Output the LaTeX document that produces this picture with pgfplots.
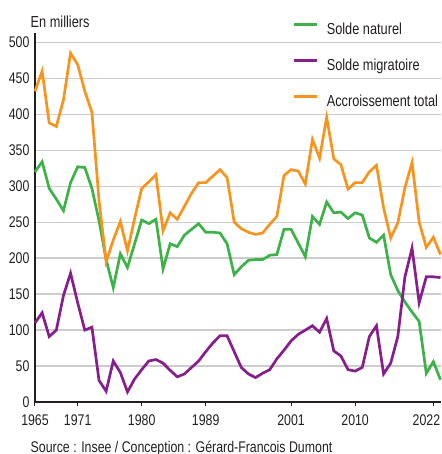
\documentclass[border=0pt]{standalone}
\usepackage{pgfplots}
\pgfplotsset{compat=1.18}
\usepackage{pgfplotstable}
\usepackage{fontspec}
\setmainfont{Liberation Sans}[FakeStretch=0.8]
\definecolor{cgreen}{RGB}{60,178,72}
\definecolor{cpurple}{RGB}{134,30,140}
\definecolor{corange}{RGB}{247,148,29}
\definecolor{ctext}{RGB}{35,31,32}
\definecolor{cgrid}{RGB}{205,205,205}
\pgfplotstableread{
year nat mig tot
1965 320 110 432
1966 334 124 460
1967 297 91 388
1968 282 100 383
1969 266 148 420
1970 305 179 485
1971 327 138 469
1972 326 100 432
1973 297 104 403
1974 252 30 280
1975 198 15 195
1976 159 57 225
1977 206 41 251
1978 187 14 210
1979 220 32 255
1980 253 45 297
1981 248 57 306
1982 254 59 316
1983 185 54 238
1984 220 44 263
1985 216 35 254
1986 232 39 272
1987 240 48 290
1988 248 57 305
1989 236 70 305
1990 236 82 314
1991 235 92 323
1992 220 92 312
1993 177 70 250
1994 188 48 241
1995 197 39 236
1996 198 34 233
1997 198 40 235
1998 204 45 247
1999 205 60 258
2000 240 72 315
2001 240 85 323
2002 221 94 321
2003 202 100 303
2004 258 106 365
2005 247 97 339
2006 278 116 396
2007 263 71 338
2008 264 64 330
2009 255 45 296
2010 263 43 305
2011 260 48 305
2012 228 91 320
2013 222 106 329
2014 232 39 270
2015 177 54 228
2016 155 91 249
2017 139 174 298
2018 125 214 333
2019 112 138 250
2020 40 174 215
2021 56 174 229
2022 31 173 205
}\data
\begin{document}
\begin{tikzpicture}
\begin{axis}[
  at={(0,0)}, anchor=south west,
  scale only axis,
  width=405.5bp, height=369bp,
  xmin=1965, xmax=2022, ymin=0, ymax=513,
  axis x line*=bottom, axis y line*=left,
  axis line style={-, draw=ctext, line width=1.1bp},
  xtick={1965,1971,1980,1989,2001,2010},
  extra x ticks={2021},
  extra x tick labels={2022},
  extra x tick style={xticklabel style={xshift=-7bp}},
  ytick={0,50,...,500},
  xticklabel style={/pgf/number format/1000 sep={}, yshift=-5bp},
  /pgf/number format/assume math mode=true,
  tick label style={font=\fontsize{15.5}{15.5}\selectfont, text=ctext},
  xtick style={draw=ctext, line width=1bp},
  ytick style={draw=none},
  tick align=outside, major tick length=4bp,
  ymajorgrids, grid style={draw=cgrid, line width=1.3bp},
  yticklabel style={xshift=2bp},
  clip=false,
  legend style={at={(rel axis cs:0.636,1.027)}, anchor=north west, draw=none, fill=none,
    font=\fontsize{16}{16}\selectfont, text=ctext, row sep=21.5bp, inner sep=0pt,
    nodes={inner sep=0pt, text height=11.5bp, text depth=3bp}},
  legend cell align=left,
  legend image code/.code={\draw[line width=2.7bp] (0bp,5.75bp) -- (23bp,5.75bp); \path (31bp,5.75bp);},
]
\addplot[cgreen, line width=2.7bp] table[x=year, y=nat] {\data};
\addlegendentry{Solde naturel}
\addplot[cpurple, line width=2.7bp] table[x=year, y=mig] {\data};
\addlegendentry{Solde migratoire}
\addplot[corange, line width=2.7bp] table[x=year, y=tot] {\data};
\addlegendentry{Accroissement total}
\end{axis}
\node[anchor=base west, text=ctext, inner sep=0pt, font=\fontsize{16}{16}\selectfont] at (-4.5bp,374bp) {En milliers};
\node[anchor=base west, text=ctext, inner sep=0pt, font=\fontsize{15.5}{15.5}\selectfont] at (-4.5bp,-50bp) {Source : Insee / Conception : Gérard-Francois Dumont};
\pgfresetboundingbox
\path (-35bp,-52bp) rectangle (407bp,402bp);
\end{tikzpicture}
\end{document}
